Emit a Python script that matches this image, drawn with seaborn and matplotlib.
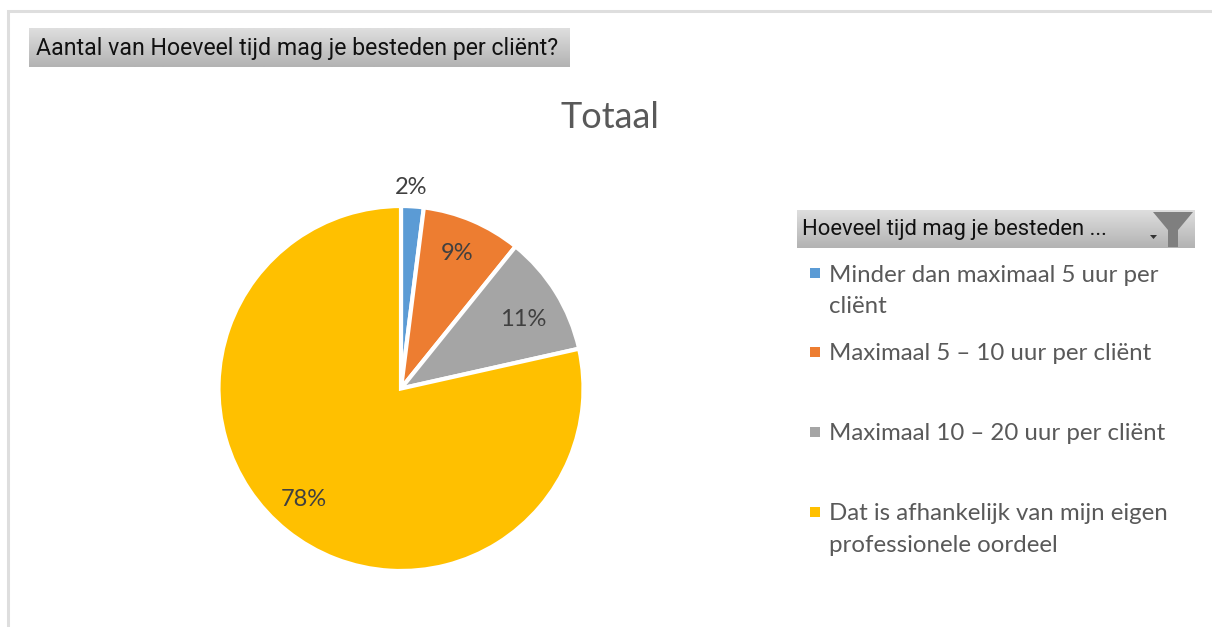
import seaborn as sns
import numpy as np
import matplotlib.pyplot as plt
from matplotlib.patches import Polygon, Rectangle

categories = [
    'Minder dan maximaal 5 uur per\ncliënt',
    'Maximaal 5 – 10 uur per cliënt',
    'Maximaal 10 – 20 uur per cliënt',
    'Dat is afhankelijk van mijn eigen\nprofessionele oordeel',
]
values = [2.0, 8.8, 10.7, 78.5]
pct_labels = ['2%', '9%', '11%', '78%']
colors = ['#5b9bd5', '#ed7d31', '#a5a5a5', '#ffc000']
title = 'Totaal'
filter_title = 'Aantal van Hoeveel tijd mag je besteden per cliënt?'
legend_title = 'Hoeveel tijd mag je besteden ...'

W, H = 1212, 627
text_grey = '#595959'
label_grey = '#404040'

sns.set_theme(style='white')
plt.rcParams['font.family'] = ['Lato', 'DejaVu Sans']

fig = plt.figure(figsize=(W / 100, H / 100), dpi=100, facecolor='white')

# overlay in pixel coordinates for the excel furniture
ov = fig.add_axes([0, 0, 1, 1])
ov.set_xlim(0, W)
ov.set_ylim(H, 0)
ov.axis('off')


def grey_button(x0, x1, y0, y1):
    grad = np.linspace(0.87, 0.70, 64).reshape(-1, 1)
    ov.imshow(grad, cmap='gray', vmin=0, vmax=1, extent=(x0, x1, y1, y0), aspect='auto', zorder=1)


# window edge
ov.plot([8, 8, W], [H, 11, 11], color='#dedede', lw=2.2, zorder=1, solid_joinstyle='miter')

grey_button(29, 570, 28, 67)
ov.text(36, 48, filter_title, fontsize=16.65, color='#111111', family='Roboto',
        va='center', ha='left', zorder=3)

ov.text(610, 117, title, fontsize=26, color=text_grey, ha='center', va='center', zorder=3)

grey_button(797, 1195, 210, 248)
ov.text(802, 230, legend_title, fontsize=15.8, color='#111111', family='Roboto',
        va='center', ha='left', zorder=3)
ov.add_patch(Polygon([(1153, 212), (1193, 212), (1178, 230), (1178, 247), (1168, 247), (1168, 230)],
                     closed=True, color='#7f7f7f', lw=0, zorder=3))
ov.add_patch(Polygon([(1150, 235), (1157, 235), (1153.5, 239)], closed=True, color='#333333', lw=0, zorder=3))

# legend entries
legend_y = [273, 352, 432, 512]
for cat, col, y in zip(categories, colors, legend_y):
    ov.add_patch(Rectangle((810, y - 5), 10, 10, color=col, lw=0, zorder=3))
    ov.text(829, y - 8.5, cat, fontsize=17.3, color=text_grey, ha='left', va='top',
            linespacing=1.63, zorder=3)

# pie
ax = fig.add_axes([(401 - 184) / W, (H - 572.5) / H, 368 / W, 368 / H])
ax.pie(values, colors=colors, startangle=90, counterclock=False, radius=182.5 / 184,
       wedgeprops={'edgecolor': 'white', 'linewidth': 3})
ax.set_xlim(-1, 1)
ax.set_ylim(-1, 1)
ax.patch.set_alpha(0)

label_pos = [(411, 187), (457, 253), (523, 320), (304, 499)]
for lab, (x, y) in zip(pct_labels, label_pos):
    ov.text(x, y, lab, fontsize=17, color=label_grey, ha='center', va='center', zorder=5)
ov.set_zorder(ax.get_zorder() + 1)
ov.patch.set_alpha(0)

fig.savefig('out.png', dpi=100)
